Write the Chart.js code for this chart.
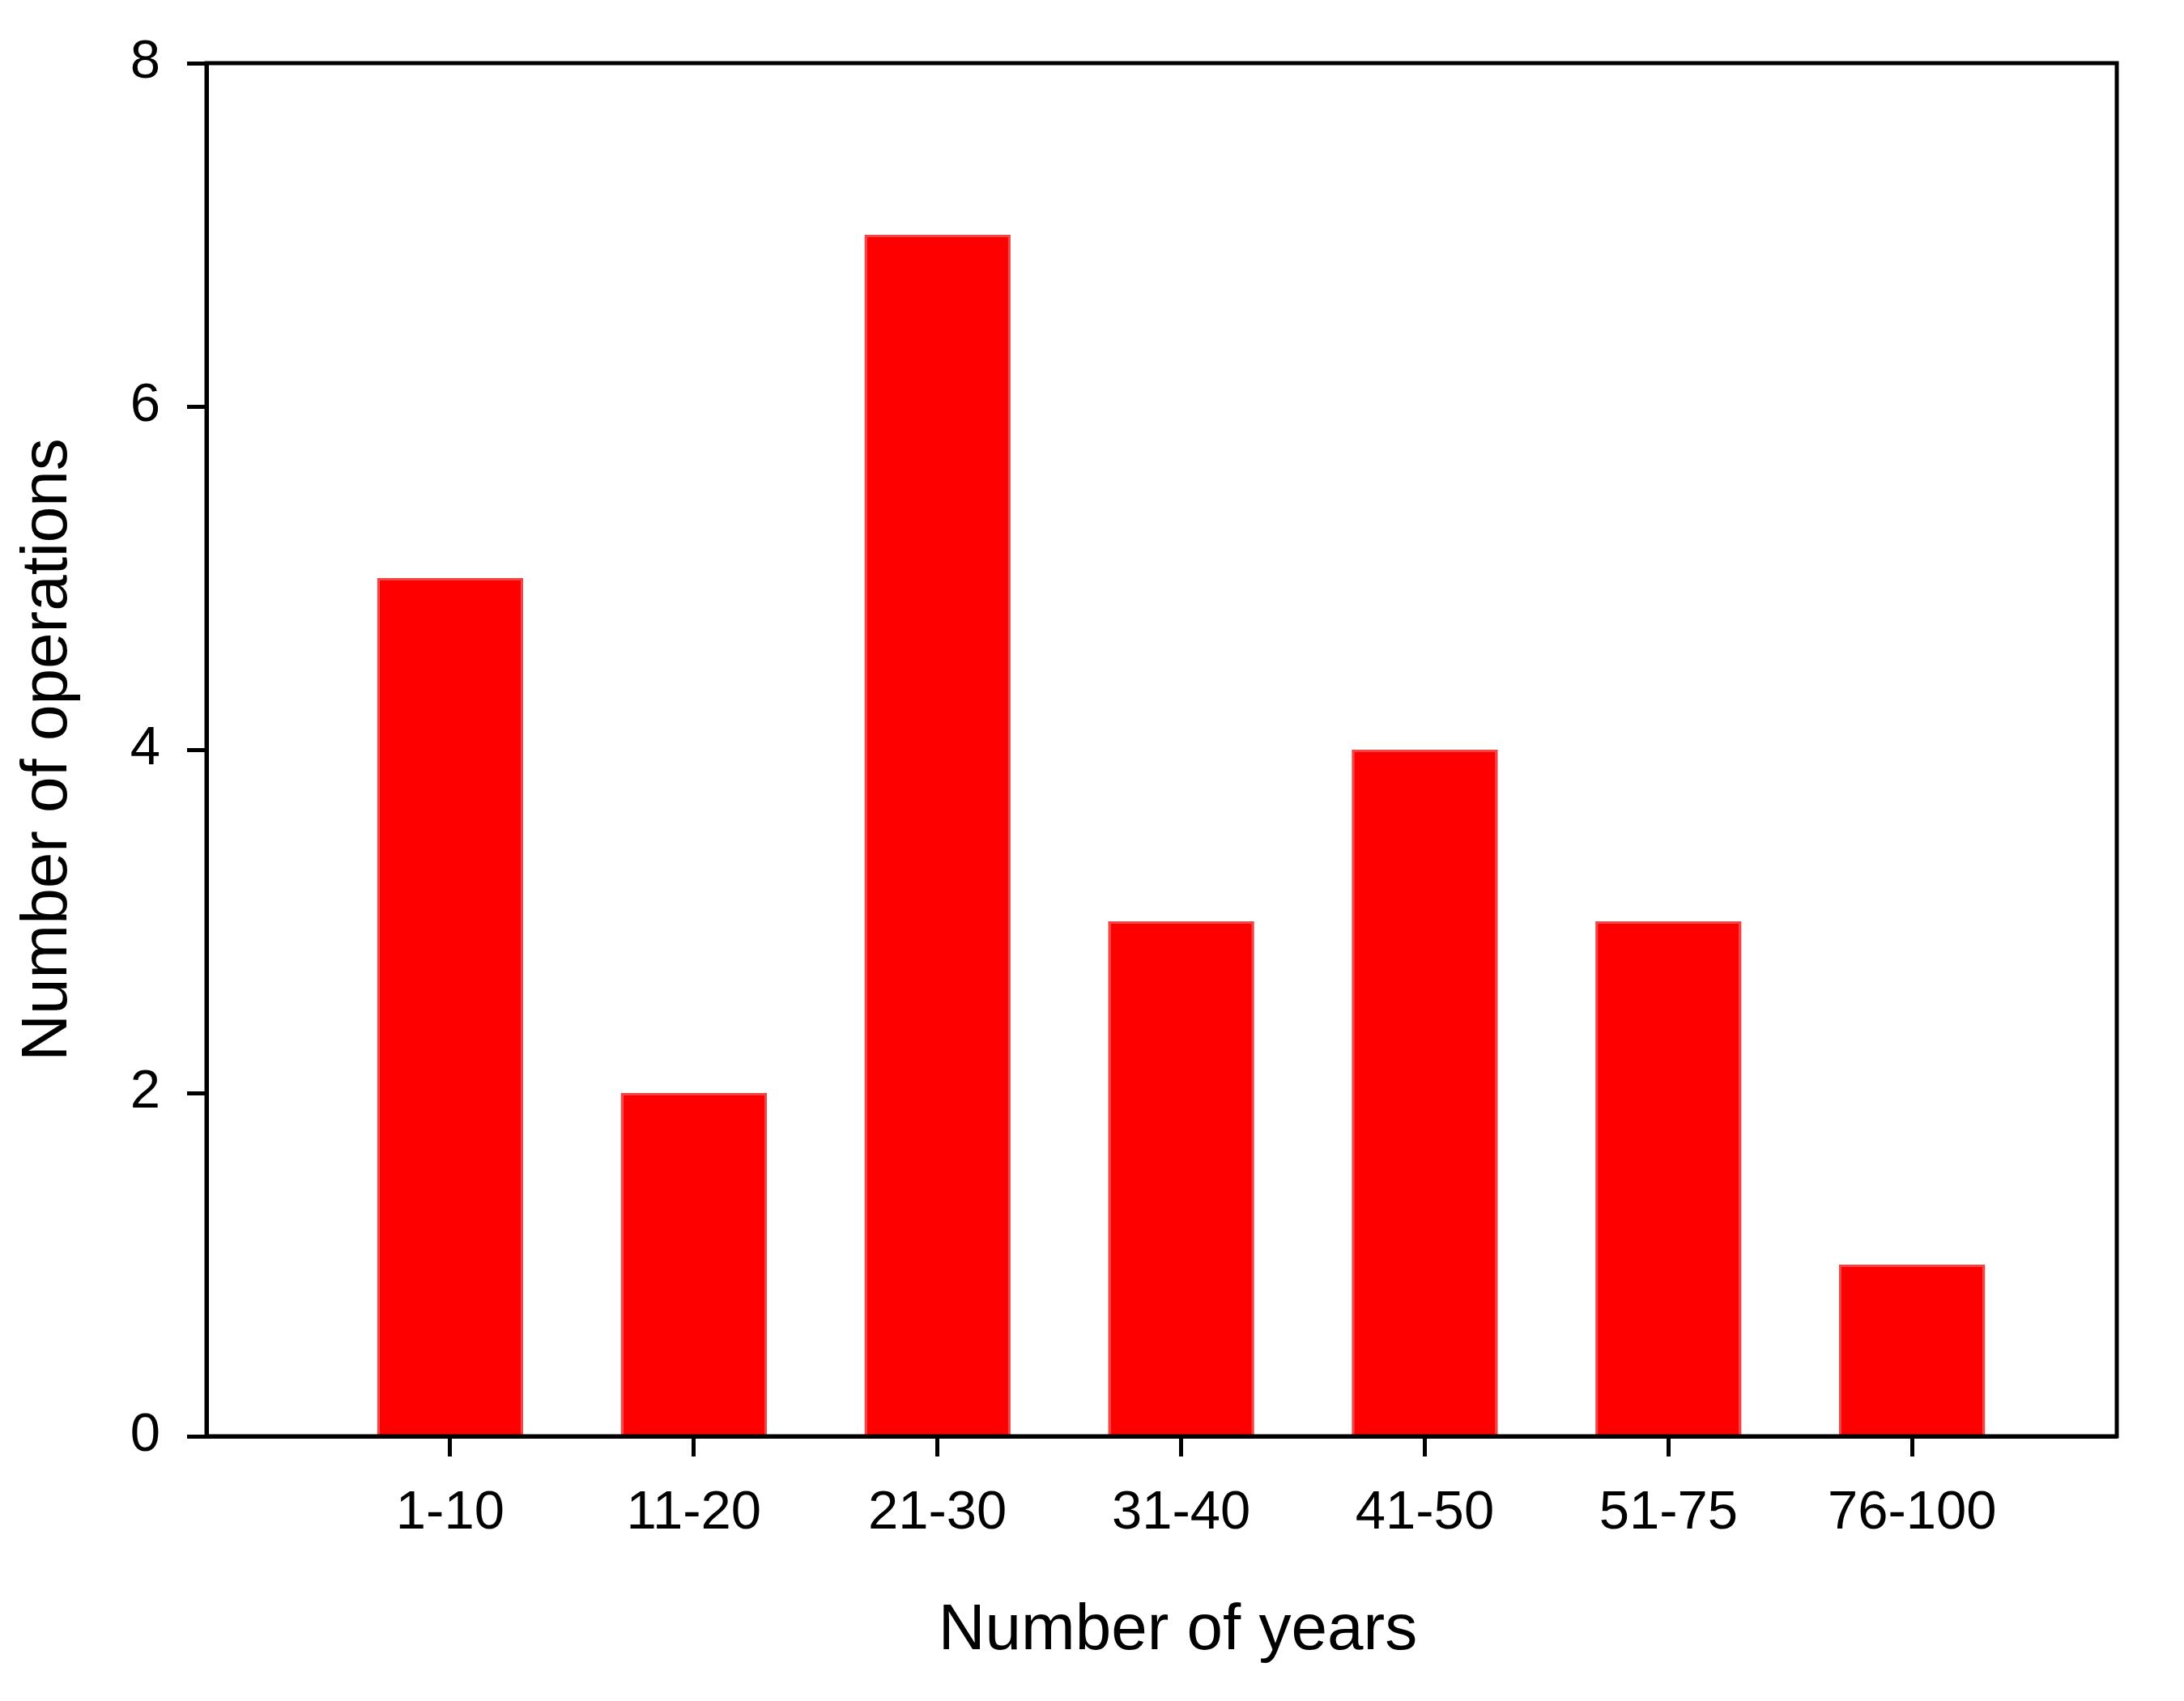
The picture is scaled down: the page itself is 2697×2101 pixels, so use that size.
<!DOCTYPE html>
<html>
<head>
<meta charset="utf-8">
<script src="https://cdn.jsdelivr.net/npm/chart.js@4"></script>
<style>
  html, body { margin: 0; padding: 0; background: #fff; }
  #wrap { width: 2697px; height: 2101px; }
</style>
</head>
<body>
<div id="wrap"><canvas id="barChart" width="2697" height="2101"></canvas></div>
<script>
// dados
const categorias = ['1-10', '11-20', '21-30', '31-40', '41-50', '51-75', '76-100'];
const operacoes = [5, 2, 7, 3, 4, 3, 1];
const yTicks = [0, 2, 4, 6, 8];

const fonte = "'Liberation Sans', Arial, sans-serif";

// moldura em volta da área do gráfico
const moldura = {
    id: 'moldura',
    afterDraw(chart) {
        const { ctx, chartArea: a } = chart;
        ctx.save();
        ctx.strokeStyle = '#000';
        ctx.lineWidth = 5;
        ctx.strokeRect(a.left, a.top, a.right - a.left, a.bottom - a.top);
        ctx.restore();
    }
};

new Chart(document.getElementById('barChart'), {
    type: 'bar',
    data: {
        datasets: [{
            label: 'Number of operations',
            data: operacoes.map((v, i) => ({ x: i + 1, y: v })),
            backgroundColor: 'rgb(255, 0, 0)',
            borderColor: 'rgb(240, 70, 70)',
            borderWidth: 3,
            barPercentage: 0.6,
            categoryPercentage: 1
        }]
    },
    options: {
        responsive: false,
        devicePixelRatio: 1,
        animation: false,
        layout: { padding: { top: 78, right: 83, left: 0, bottom: 0 } },
        plugins: {
            legend: { display: false },
            tooltip: { enabled: false }
        },
        scales: {
            x: {
                type: 'linear',
                min: 0,
                max: 7.84,
                offset: false,
                afterBuildTicks: s => { s.ticks = categorias.map((c, i) => ({ value: i + 1 })); },
                afterFit: s => { s.height = 327; },
                border: { display: true, color: '#000', width: 5 },
                grid: { offset: false, drawOnChartArea: false, drawTicks: true, tickLength: 25, tickColor: '#000', tickWidth: 5 },
                ticks: {
                    color: '#000',
                    padding: 30,
                    maxRotation: 0,
                    font: { family: fonte, size: 67 },
                    callback: v => categorias[v - 1] || ''
                },
                title: {
                    display: true,
                    text: '\u2002Number of years',
                    color: '#000',
                    font: { family: fonte, size: 80 },
                    padding: { top: 0, bottom: 38 }
                }
            },
            y: {
                min: 0,
                max: 8,
                afterBuildTicks: s => { s.ticks = yTicks.map(v => ({ value: v })); },
                afterFit: s => { s.width = 255; },
                border: { display: true, color: '#000', width: 5 },
                grid: { drawOnChartArea: false, drawTicks: true, tickLength: 24, tickColor: '#000', tickWidth: 5 },
                ticks: {
                    color: '#000',
                    padding: 33,
                    font: { family: fonte, size: 67 }
                },
                title: {
                    display: true,
                    text: 'Number of operations',
                    color: '#000',
                    font: { family: fonte, size: 80 },
                    padding: { top: 12, bottom: 0 }
                }
            }
        }
    },
    plugins: [moldura]
});
</script>
</body>
</html>
